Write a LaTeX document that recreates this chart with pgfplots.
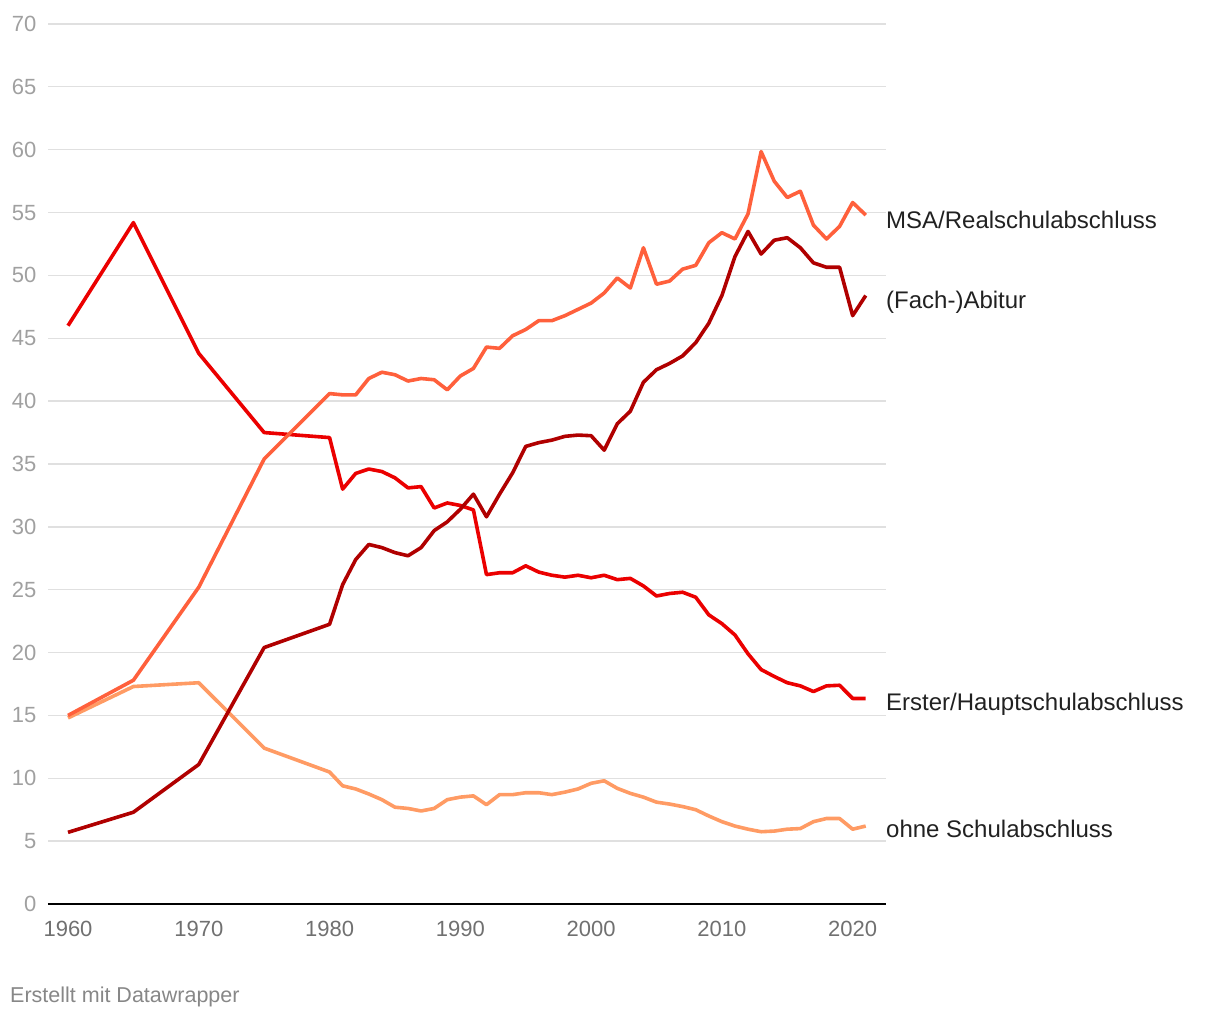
\documentclass[border=0pt]{standalone}
\usepackage{pgfplots}
\pgfplotsset{compat=1.18}
\usepackage{fontspec}
\setmainfont{Liberation Sans}

\definecolor{cMSA}{RGB}{255,96,60}
\definecolor{cErst}{RGB}{235,0,0}
\definecolor{cAbi}{RGB}{176,0,0}
\definecolor{cOhne}{RGB}{255,155,100}
\definecolor{ylab}{RGB}{160,160,160}
\definecolor{xlab}{RGB}{112,112,112}
\definecolor{gridc}{RGB}{224,224,224}

\begin{document}
\begin{tikzpicture}[x=1pt,y=1pt]
    \begin{axis}[
        at={(0,0)}, anchor=south west,
        scale only axis, width=838pt, height=880pt,
        xmin=1958.47, xmax=2022.55, ymin=0, ymax=70,
        axis x line=bottom, axis y line=left,
        axis line style={-},
        x axis line style={black, line width=2pt},
        y axis line style={draw=none},
        xtick={1960,1970,...,2020},
        ytick={0,5,...,70},
        major tick length=0pt,
        ymajorgrids, grid style={gridc, line width=1.3pt},
        /pgf/number format/assume math mode=true,
        /pgf/number format/1000 sep={},
        xticklabel style={font=\fontsize{22}{25}\selectfont, text=xlab, yshift=-14pt},
        yticklabel style={font=\fontsize{22}{25}\selectfont, text=ylab, xshift=-8pt},
        every axis plot/.append style={line width=3.6pt, line join=round, no markers},
        clip=false,
    ]

    % ohne Schulabschluss
    \addplot[cOhne] coordinates {
        (1960,14.8) (1965,17.3) (1970,17.6) (1975,12.4) (1980,10.5)
        (1981,9.4) (1982,9.15) (1983,8.75) (1984,8.3) (1985,7.7)
        (1986,7.6) (1987,7.4) (1988,7.6) (1989,8.3) (1990,8.5)
        (1991,8.6) (1992,7.9) (1993,8.7) (1994,8.7) (1995,8.85)
        (1996,8.85) (1997,8.7) (1998,8.9) (1999,9.15) (2000,9.6)
        (2001,9.8) (2002,9.2) (2003,8.8) (2004,8.5) (2005,8.1)
        (2006,7.95) (2007,7.75) (2008,7.5) (2009,7.0) (2010,6.55)
        (2011,6.2) (2012,5.95) (2013,5.75) (2014,5.8) (2015,5.95)
        (2016,6.0) (2017,6.55) (2018,6.8) (2019,6.8) (2020,5.95)
        (2021,6.2)
    };

    % Erster/Hauptschulabschluss
    \addplot[cErst] coordinates {
        (1960,46.0) (1965,54.2) (1970,43.8) (1975,37.5) (1980,37.1)
        (1981,33.0) (1982,34.25) (1983,34.6) (1984,34.4) (1985,33.9)
        (1986,33.1) (1987,33.2) (1988,31.5) (1989,31.9) (1990,31.7)
        (1991,31.35) (1992,26.2) (1993,26.35) (1994,26.35) (1995,26.9)
        (1996,26.4) (1997,26.15) (1998,26.0) (1999,26.15) (2000,25.95)
        (2001,26.15) (2002,25.8) (2003,25.9) (2004,25.3) (2005,24.5)
        (2006,24.7) (2007,24.8) (2008,24.4) (2009,23.0) (2010,22.3)
        (2011,21.4) (2012,19.9) (2013,18.65) (2014,18.1) (2015,17.6)
        (2016,17.35) (2017,16.9) (2018,17.35) (2019,17.4) (2020,16.35)
        (2021,16.35)
    };

    % MSA/Realschulabschluss
    \addplot[cMSA] coordinates {
        (1960,15.0) (1965,17.8) (1970,25.2) (1975,35.4) (1980,40.6)
        (1981,40.5) (1982,40.5) (1983,41.8) (1984,42.3) (1985,42.1)
        (1986,41.6) (1987,41.8) (1988,41.7) (1989,40.9) (1990,42.0)
        (1991,42.6) (1992,44.3) (1993,44.2) (1994,45.2) (1995,45.7)
        (1996,46.4) (1997,46.4) (1998,46.8) (1999,47.3) (2000,47.8)
        (2001,48.6) (2002,49.8) (2003,49.0) (2004,52.2) (2005,49.3)
        (2006,49.55) (2007,50.5) (2008,50.8) (2009,52.6) (2010,53.4)
        (2011,52.9) (2012,54.9) (2013,59.85) (2014,57.5) (2015,56.2)
        (2016,56.7) (2017,54.0) (2018,52.9) (2019,53.9) (2020,55.8)
        (2021,54.8)
    };

    % (Fach-)Abitur
    \addplot[cAbi] coordinates {
        (1960,5.7) (1965,7.3) (1970,11.1) (1975,20.4) (1980,22.25)
        (1981,25.4) (1982,27.4) (1983,28.6) (1984,28.35) (1985,27.95)
        (1986,27.7) (1987,28.35) (1988,29.7) (1989,30.4) (1990,31.4)
        (1991,32.6) (1992,30.8) (1993,32.6) (1994,34.3) (1995,36.4)
        (1996,36.7) (1997,36.9) (1998,37.2) (1999,37.3) (2000,37.25)
        (2001,36.1) (2002,38.2) (2003,39.2) (2004,41.5) (2005,42.5)
        (2006,43.0) (2007,43.6) (2008,44.65) (2009,46.2) (2010,48.4)
        (2011,51.5) (2012,53.5) (2013,51.7) (2014,52.8) (2015,53.0)
        (2016,52.2) (2017,51.0) (2018,50.65) (2019,50.65) (2020,46.8)
        (2021,48.4)
    };

    \begin{scope}[every node/.style={anchor=west, inner sep=0pt, text=black!87,
            font=\fontsize{24}{28}\selectfont}]
        \node at (axis cs:2022.55,54.4) {MSA/Realschulabschluss};
        \node at (axis cs:2022.55,47.9) {(Fach-)Abitur};
        \node at (axis cs:2022.55,15.9) {Erster/Hauptschulabschluss};
        \node at (axis cs:2022.55,5.97) {ohne Schulabschluss};
    \end{scope}
    \end{axis}
    \node[anchor=west, inner sep=0pt, text=black!47, font=\fontsize{21.5}{24}\selectfont]
        at (-38pt,-93pt) {Erstellt mit Datawrapper};
    \path[use as bounding box] (-48pt,-116pt) rectangle (1172pt,904pt);
\end{tikzpicture}
\end{document}
